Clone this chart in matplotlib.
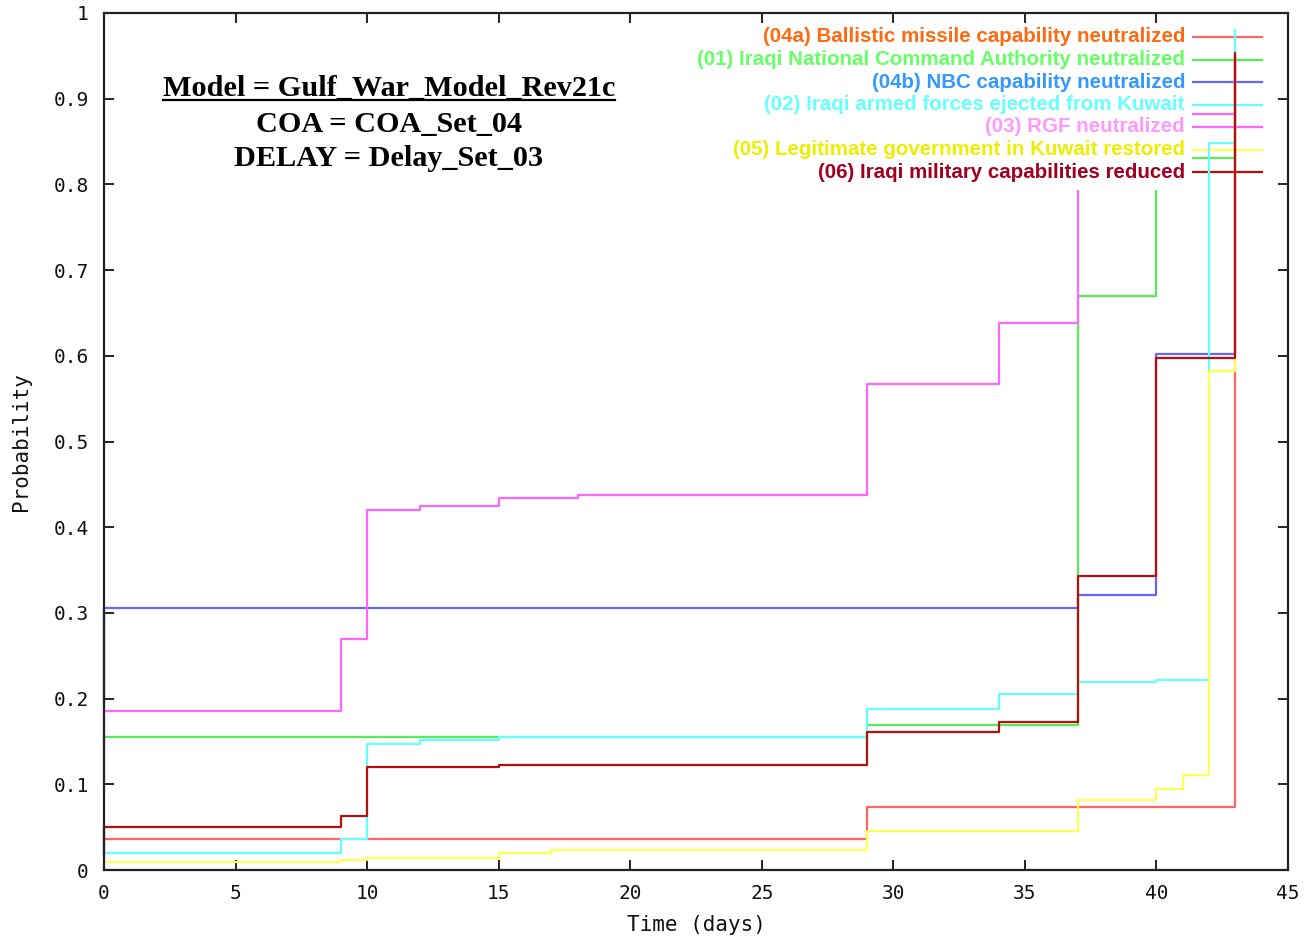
import matplotlib
matplotlib.use("Agg")
import matplotlib.pyplot as plt
from matplotlib.patches import Rectangle
from matplotlib.lines import Line2D

# ---------------- data ----------------
t_04a = [0, 29, 43]
p_04a = [0.036, 0.074, 0.95]

t_01 = [0, 29, 37, 40, 43]
p_01 = [0.155, 0.169, 0.670, 0.831, 0.95]

t_04b = [0, 0, 37, 40, 43]
p_04b = [0.19, 0.306, 0.321, 0.602, 0.95]

t_02 = [0, 9, 10, 12, 15, 29, 34, 37, 40, 42, 43]
p_02 = [0.020, 0.036, 0.147, 0.152, 0.155, 0.188, 0.205, 0.219, 0.222, 0.848, 0.98]

t_03 = [0, 0, 9, 10, 12, 15, 18, 29, 34, 37, 43]
p_03 = [0.10, 0.186, 0.270, 0.420, 0.425, 0.434, 0.437, 0.567, 0.638, 0.882, 0.95]

t_05 = [0, 9, 10, 15, 17, 29, 37, 40, 41, 42, 43]
p_05 = [0.0097, 0.0117, 0.0144, 0.0198, 0.0237, 0.0455, 0.0817, 0.0945, 0.111, 0.582, 0.95]

t_06 = [0, 0, 9, 10, 15, 29, 34, 37, 40, 43]
p_06 = [0.020, 0.050, 0.063, 0.120, 0.1225, 0.161, 0.173, 0.343, 0.597, 0.953]

labels = [
    "(04a) Ballistic missile capability neutralized",
    "(01) Iraqi National Command Authority neutralized",
    "(04b) NBC capability neutralized",
    "(02) Iraqi armed forces ejected from Kuwait",
    "(03) RGF neutralized",
    "(05) Legitimate government in Kuwait restored",
    "(06) Iraqi military capabilities reduced",
]
series = [(t_04a, p_04a), (t_01, p_01), (t_04b, p_04b), (t_02, p_02),
          (t_03, p_03), (t_05, p_05), (t_06, p_06)]
line_colors = ["#ff6666", "#55ee55", "#6666ff", "#66ffff", "#ff66ff", "#ffff55", "#b50f0f"]
text_colors = ["#ff6a10", "#66ff66", "#3399ff", "#66ffff", "#ff99ff", "#eeee00", "#a0001e"]

x_ticks = [0, 5, 10, 15, 20, 25, 30, 35, 40, 45]
y_ticks = [0, 0.1, 0.2, 0.3, 0.4, 0.5, 0.6, 0.7, 0.8, 0.9, 1.0]
y_tick_labels = ["0", "0.1", "0.2", "0.3", "0.4", "0.5", "0.6", "0.7", "0.8", "0.9", "1"]

title_lines = ["Model = Gulf_War_Model_Rev21c", "COA = COA_Set_04", "DELAY = Delay_Set_03"]

# ---------------- figure ----------------
W, H = 1312, 939
fig = plt.figure(figsize=(W / 100, H / 100), dpi=100)
L, R, B, T = 104, 1288, 870, 13
ax = fig.add_axes([L / W, (H - B) / H, (R - L) / W, (B - T) / H])
ax.set_xlim(0, 45)
ax.set_ylim(0, 1)

for (t, p), c in zip(series, line_colors):
    ax.plot(t, p, drawstyle="steps-post", color=c, lw=1.6, zorder=2, clip_on=False)

mono = "DejaVu Sans Mono"
fs_ax = 14
ax.set_xticks(x_ticks)
ax.set_xticklabels([str(v) for v in x_ticks], fontfamily=mono, fontsize=fs_ax)
ax.set_yticks(y_ticks)
ax.set_yticklabels(y_tick_labels, fontfamily=mono, fontsize=fs_ax)
ax.tick_params(direction="in", length=7, width=1.4, top=True, right=True,
               color="#222222", labelcolor="#111111")
ax.tick_params(axis="x", pad=10)
ax.tick_params(axis="y", pad=11)
for s in ax.spines.values():
    s.set_linewidth(1.6)
    s.set_color("#222222")
    s.set_zorder(5)
ax.set_xlabel("Time (days)", fontfamily=mono, fontsize=15, labelpad=9, color="#111111")
ax.set_ylabel("Probability", fontfamily=mono, fontsize=15, labelpad=16, color="#111111")

def ax_frac(px, py):
    return ((px - L) / (R - L), (B - py) / (B - T))

# key box (opaque behind text)
x0, y0 = ax_frac(680, 190)
x1, y1 = ax_frac(1192, 24)
ax.add_patch(Rectangle((x0, y0), x1 - x0, y1 - y0, transform=ax.transAxes,
                       facecolor="white", edgecolor="none", zorder=3))
rows_py = [37, 59.5, 82, 104.5, 127, 149.5, 172]
for lab, tc, lc, py in zip(labels, text_colors, line_colors, rows_py):
    xt, yt = ax_frac(1185, py)
    ax.text(xt, yt, lab, transform=ax.transAxes, ha="right", va="center",
            color=tc, fontsize=14.8, fontweight="bold", family="Liberation Sans", zorder=4)
    xa, ya = ax_frac(1193, py)
    xb, _ = ax_frac(1262, py)
    ax.add_line(Line2D([xa, xb], [ya, ya], transform=ax.transAxes, color=lc,
                       lw=1.6, zorder=1.5, clip_on=False))

# annotation block
title_py = [88, 124, 159]
txts = []
for s, py in zip(title_lines, title_py):
    xt, yt = ax_frac(389, py)
    txts.append(ax.text(xt, yt, s, transform=ax.transAxes, ha="center", va="center",
                        fontsize=21.8, fontweight="bold", family="Liberation Serif",
                        color="black", zorder=4))

fig.canvas.draw()
r = fig.canvas.get_renderer()
bb = txts[0].get_window_extent(renderer=r)
inv = ax.transAxes.inverted()
(ux0, uy0) = inv.transform((bb.x0, bb.y0 + 2))
(ux1, _) = inv.transform((bb.x1, bb.y0 + 2))
ax.add_line(Line2D([ux0, ux1], [uy0, uy0], transform=ax.transAxes, color="black",
                   lw=1.6, zorder=4))

fig.savefig("out.png", dpi=100, facecolor="white")
